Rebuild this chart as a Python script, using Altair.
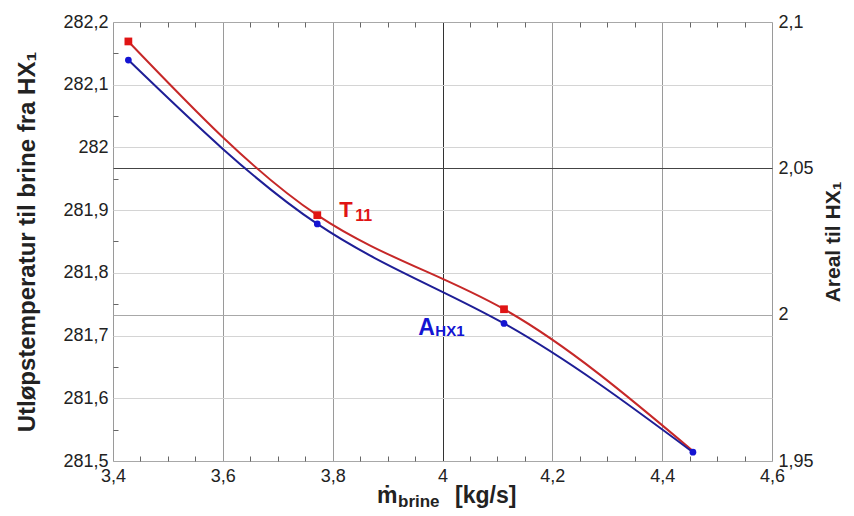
import altair as alt
import pandas as pd

# ---- data ----
mdot = [3.428, 3.772, 4.112, 4.456]            # kg/s
t11 = [282.169, 281.892, 281.742, 281.516]     # left axis
t11_marker = [True, True, True, False]
a_hx1 = [2.087, 2.031, 1.997, 1.953]           # right axis

x_ticks = [round(3.4 + 0.05 * i, 2) for i in range(25)]
left_ticks = [round(281.5 + 0.05 * i, 2) for i in range(15)]
right_ticks = [1.95, 2.0, 2.05, 2.1]

# annotation anchors (data coordinates)
t_label_x, t_label_y = 3.812, 281.889
a_label_x, a_label_y = 3.956, 1.993

FONT = "Liberation Sans"
RED_LINE = "#c62828"
RED_PT = "#e01414"
BLUE_LINE = "#1e1e96"
BLUE_PT = "#1414d2"

df_t = pd.DataFrame({"x": mdot, "t": t11, "m": t11_marker})
df_a = pd.DataFrame({"x": mdot, "a": a_hx1})

x_major = "abs(datum.value*5 - round(datum.value*5)) < 0.01"
l_major = "abs(datum.value*10 - round(datum.value*10)) < 0.01"

x_scale = alt.Scale(domain=[3.4, 4.6], nice=False, zero=False)
l_scale = alt.Scale(domain=[281.5, 282.2], nice=False, zero=False)
r_scale = alt.Scale(domain=[1.95, 2.1], nice=False, zero=False)

x_axis_bottom = alt.Axis(
    values=x_ticks, title=None, domain=False,
    labelExpr=f"{x_major} ? replace(format(datum.value, '.1~f'), '.', ',') : ''",
    labelOverlap=False, labelFlush=False, labelPadding=11,
    tickSize={"expr": "-5"}, tickColor="#666",
    tickOpacity={"condition": {"test": x_major, "value": 0}, "value": 1},
    grid=True,
    gridColor={"condition": {"test": "abs(datum.value-4) < 0.001", "value": "#333"}, "value": "#9a9a9a"},
    gridOpacity={"condition": {"test": x_major, "value": 1}, "value": 0},
)
x_axis_top = alt.Axis(
    values=x_ticks, title=None, domain=False, orient="top", labels=False,
    tickSize={"expr": "-5"}, tickColor="#666",
    tickOpacity={"condition": {"test": x_major, "value": 0}, "value": 1},
    grid=False,
)
left_axis = alt.Axis(
    values=left_ticks, title="Utløpstemperatur til brine fra HX₁", domain=False,
    labelExpr=f"{l_major} ? replace(format(datum.value, '.1~f'), '.', ',') : ''",
    labelOverlap=False, labelFlush=False, labelPadding=10,
    tickSize={"expr": "-5"}, tickColor="#666",
    tickOpacity={"condition": {"test": l_major, "value": 0}, "value": 1},
    grid=True, gridColor="#d4d4d4",
    gridOpacity={"condition": {"test": l_major, "value": 1}, "value": 0},
    titleFontSize=24, titlePadding=23,
)
right_axis = alt.Axis(
    values=right_ticks, title="Areal til HX₁", orient="right", domain=False,
    labelExpr="replace(format(datum.value, '.2~f'), '.', ',')",
    labelOverlap=False, labelFlush=False, labelPadding=6, ticks=False,
    grid=True,
    gridColor={"condition": {"test": "abs(datum.value-2.05) < 0.001", "value": "#444"}, "value": "#a8a8a8"},
    titleAngle=270, titleFontSize=21, titlePadding=30,
)

X = lambda ax: alt.X("x:Q", scale=x_scale, axis=ax)
YL = alt.Y("t:Q", scale=l_scale, axis=left_axis)
YR = alt.Y("a:Q", scale=r_scale, axis=right_axis)

base_r = alt.Chart(df_t).encode(x=X(x_axis_bottom), y=YL)
red_line = base_r.mark_line(interpolate="natural", color=RED_LINE, strokeWidth=2)
red_pts = base_r.transform_filter("datum.m").mark_square(size=60, color=RED_PT, opacity=1)

t_df = pd.DataFrame({"x": [t_label_x], "t": [t_label_y]})
t_main = alt.Chart(t_df).mark_text(text="T", font=FONT, fontSize=22, fontWeight="bold",
                                   color=RED_PT, align="left", baseline="alphabetic").encode(x=X(x_axis_bottom), y=YL)
t_sub = alt.Chart(t_df).mark_text(text="11", font=FONT, fontSize=16, fontWeight="bold",
                                  color=RED_PT, align="left", baseline="alphabetic", dx=16, dy=4).encode(x=X(x_axis_bottom), y=YL)

one = pd.DataFrame({"k": [0]})
xt_m = alt.Chart(one).mark_text(text="ṁ", font=FONT, fontSize=23, fontWeight="bold", color="#222",
                                align="left", baseline="alphabetic").encode(x=alt.value(264), y=alt.value(481))
xt_b = alt.Chart(one).mark_text(text="brine", font=FONT, fontSize=17, fontWeight="bold", color="#222",
                                align="left", baseline="alphabetic").encode(x=alt.value(285), y=alt.value(485))
xt_u = alt.Chart(one).mark_text(text="[kg/s]", font=FONT, fontSize=23, fontWeight="bold", color="#222",
                                align="left", baseline="alphabetic").encode(x=alt.value(342), y=alt.value(481))

red_group = alt.layer(red_line, red_pts, t_main, t_sub, xt_m, xt_b, xt_u)

base_b = alt.Chart(df_a).encode(x=X(x_axis_top), y=YR)
blue_line = base_b.mark_line(interpolate="natural", color=BLUE_LINE, strokeWidth=2)
blue_pts = base_b.mark_circle(size=45, color=BLUE_PT, opacity=1)
a_df = pd.DataFrame({"x": [a_label_x], "a": [a_label_y]})
a_main = alt.Chart(a_df).mark_text(text="A", font=FONT, fontSize=23, fontWeight="bold",
                                   color=BLUE_PT, align="left", baseline="alphabetic").encode(x=X(x_axis_top), y=YR)
a_sub = alt.Chart(a_df).mark_text(text="HX1", font=FONT, fontSize=15, fontWeight="bold",
                                  color=BLUE_PT, align="left", baseline="alphabetic", dx=17, dy=1).encode(x=X(x_axis_top), y=YR)
blue_group = alt.layer(blue_line, blue_pts, a_main, a_sub)

chart = (
    alt.layer(red_group, blue_group)
    .resolve_scale(y="independent")
    .resolve_axis(x="independent")
    .properties(width=659, height=439,
                autosize=alt.AutoSizeParams(type="none"),
                padding={"left": 113, "top": 22, "right": 82, "bottom": 55},
                background="white")
    .configure_view(stroke="#808080", strokeWidth=1)
    .configure_axis(labelFont=FONT, labelFontSize=18, labelColor="#222",
                    titleFont=FONT, titleFontSize=19, titleFontWeight="bold", titleColor="#222")
)

chart.save("out.html", embed_options={"renderer": "svg", "actions": False})
